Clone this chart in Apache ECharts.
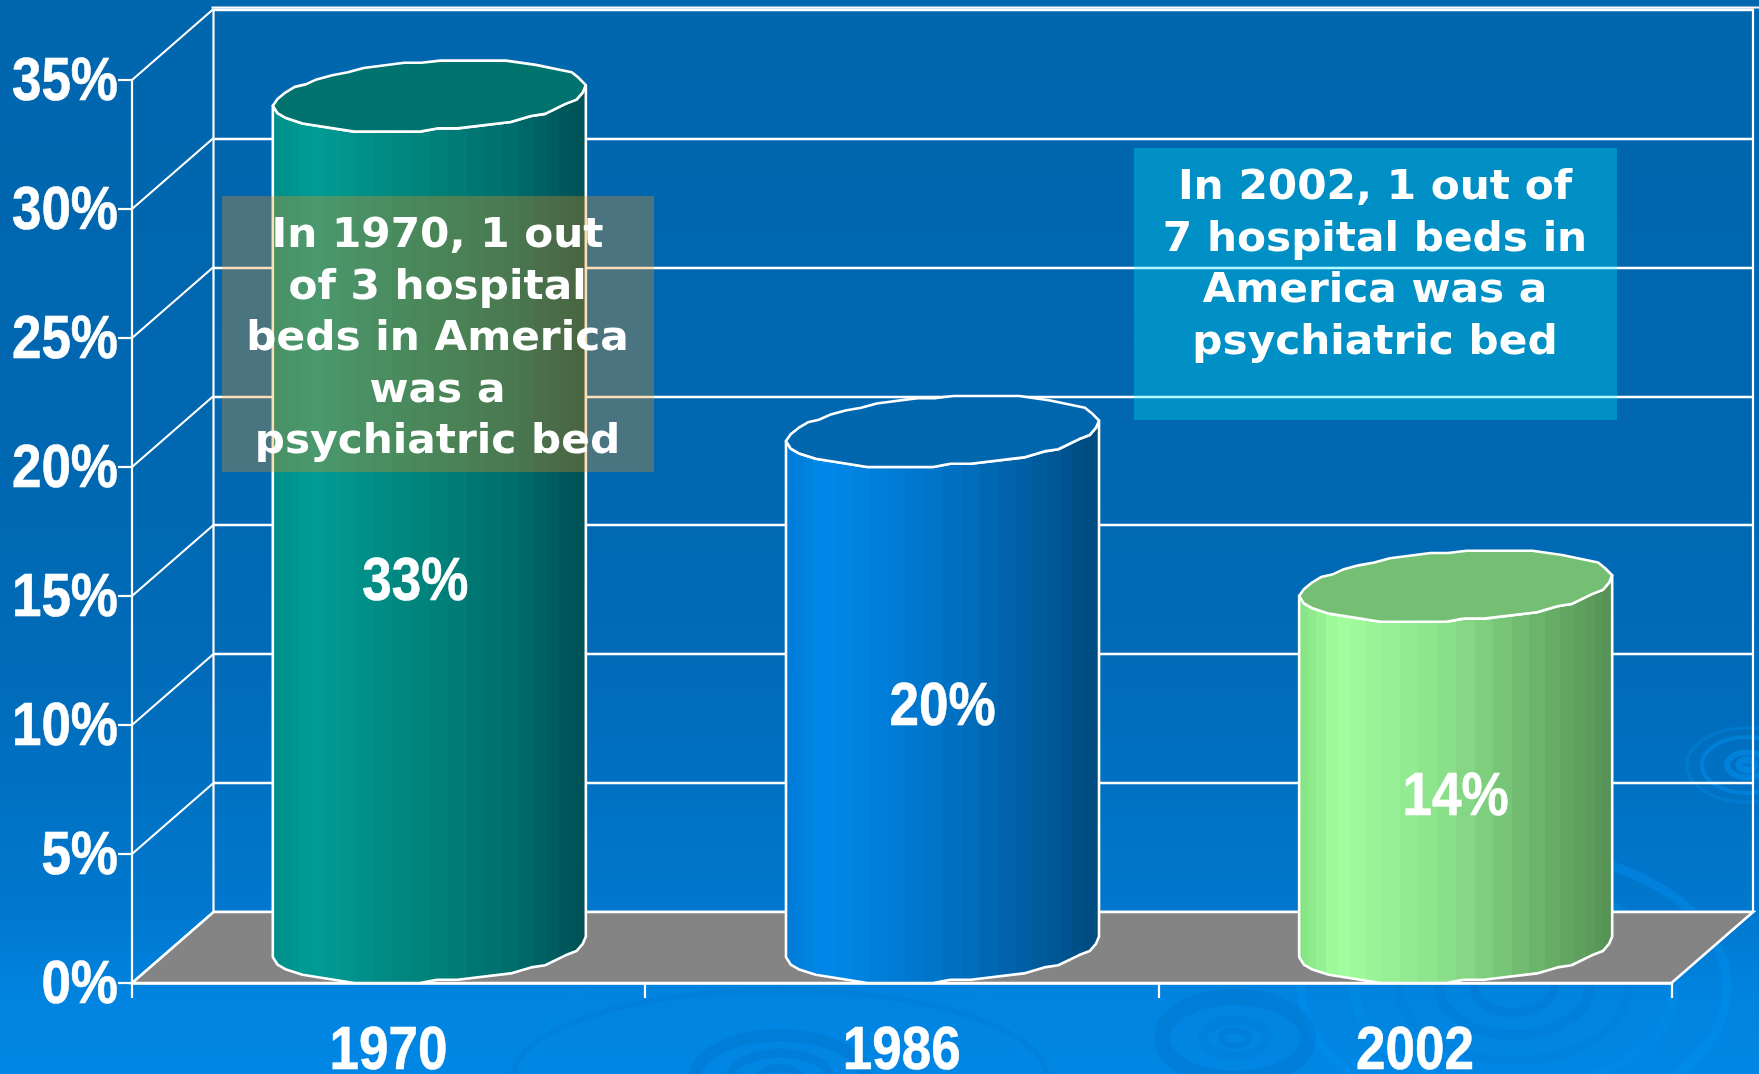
<!DOCTYPE html>
<html><head><meta charset="utf-8">
<style>html,body{margin:0;padding:0;background:#0075c8}#c{width:1759px;height:1074px}</style>
<script src="https://cdn.jsdelivr.net/npm/echarts@6/dist/echarts.min.js"></script>
</head><body><div id="c"></div>
<script>
// ---- data ----
const categories = ['1970', '1986', '2002'];
const percentages = [33, 20, 14];
const valueTicks = [0, 5, 10, 15, 20, 25, 30, 35];
const noteLeft = 'In 1970, 1 out\nof 3 hospital\nbeds in America\nwas a\npsychiatric bed';
const noteRight = 'In 2002, 1 out of\n7 hospital beds in\nAmerica was a\npsychiatric bed';

// ---- styling ----
const FRONT = {left: 132, top: 80, right: 87.5, bottom: 91};
const BACK = {left: 213.5, top: 9.5, right: 6, bottom: 162};
const DEPTH = {x: 81.5, y: -71};
const NUM_FONT = 'bold 62px "Liberation Sans", Arial, sans-serif';
const NUM_SCALE = 0.855;
const labelNudge = [[-14, 61], [0, 18], [0, 31]];
const bodyShades = [
  ['#008f88', '#009c96', '#008279', '#006e6e', '#004f55'],
  ['#0079d6', '#0089ea', '#0073c6', '#0060a6', '#00497c'],
  ['#82e082', '#a2ff9e', '#88dc88', '#6cb56c', '#559055']
];
const capColors = ['#00736f', '#0066ae', '#74bf74'];
// unit outline of the slightly faceted cylinder end, clockwise from the left
const facetsTop = [[-1,.27],[-.97,.08],[-.92,-.1],[-.86,-.26],[-.79,-.33],[-.72,-.47],[-.62,-.59],[-.52,-.67],[-.42,-.79],[-.16,-.94],[-.05,-.94],[.07,-1],[.49,-1],[.68,-.88],[.91,-.67],[.95,-.53],[1,-.31]];
const facetsBottom = [[1,-.31],[.98,-.1],[.94,.1],[.87,.22],[.74,.5],[.65,.56],[.52,.73],[.18,.91],[.05,.91],[-.06,1],[-.48,1],[-.81,.77],[-.92,.61],[-.97,.48],[-1,.27]];

function shadeAt(pal, t) {
  const xs = [0, .13, .5, .75, 1];
  let i = 0; while (i < xs.length - 2 && t > xs[i + 1]) i++;
  const f = (t - xs[i]) / (xs[i + 1] - xs[i]);
  const h = c => [1, 3, 5].map(k => parseInt(c.substr(k, 2), 16));
  const a = h(pal[i]), b = h(pal[i + 1]);
  return 'rgb(' + a.map((v, k) => Math.round(v + (b[k] - v) * f)).join(',') + ')';
}
function bandedFill(pal) {
  const n = 26, stops = [];
  for (let i = 0; i < n; i++) {
    const t0 = (1 - Math.cos(Math.PI * i / n)) / 2, t1 = (1 - Math.cos(Math.PI * (i + 1) / n)) / 2;
    const c = shadeAt(pal, (t0 + t1) / 2);
    stops.push({offset: t0, color: c}, {offset: t1, color: c});
  }
  return {type: 'linear', x: 0, y: 0, x2: 1, y2: 0, colorStops: stops};
}
function numText(text, x, y, align) {
  return {type: 'text', x, y, scaleX: NUM_SCALE, style: {text, x: 0, y: 0, fill: '#fff', font: NUM_FONT, align, verticalAlign: 'middle', stroke: '#fff', lineWidth: 0.6}};
}

function renderCylinder(params, api) {
  const i = api.value(0);
  const base = api.coord([i, 0]), head = api.coord([i, api.value(1)]);
  const rx = api.size([1, 0])[0] * 0.305, ry = 35.5;
  const cx = base[0] + DEPTH.x / 2, yB = base[1] + DEPTH.y / 2, yT = head[1] + DEPTH.y / 2;
  const pt = (p, y) => [cx + p[0] * rx, y + p[1] * ry];
  const top = facetsTop.map(p => pt(p, yT));
  const capFront = facetsBottom.map(p => pt(p, yT));
  const body = facetsBottom.map(p => pt(p, yB)).concat(capFront.slice().reverse());
  const line = {stroke: '#fff', lineWidth: 2.6, lineJoin: 'round'};
  return {
    type: 'group',
    children: [
      {type: 'polygon', shape: {points: body}, style: Object.assign({fill: bandedFill(bodyShades[i])}, line)},
      {type: 'polygon', shape: {points: top.concat(capFront.slice(1, -1))}, style: Object.assign({fill: capColors[i]}, line)},
      numText(api.value(1) + '%', cx + labelNudge[i][0], (yB + yT) / 2 + labelNudge[i][1], 'center'),
      numText(categories[i], base[0], base[1] + 69, 'center')
    ]
  };
}

function renderWall(params, api) {
  const cs = params.coordSys, v = api.value(1), y = api.coord([0, v])[1];
  const children = [
    {type: 'line', shape: {x1: cs.x, y1: y, x2: cs.x + DEPTH.x, y2: y + DEPTH.y}, style: {stroke: '#fff', lineWidth: 2.2}},
    numText(v + '%', cs.x - 14, y + 2.5, 'right')
  ];
  if (v === valueTicks[valueTicks.length - 1]) {
    children.push({type: 'line', shape: {x1: cs.x + DEPTH.x - 2, y1: 7.5, x2: 1759, y2: 7.5}, style: {stroke: '#fff', lineWidth: 2.2}});
  }
  return {type: 'group', children};
}

function renderFloor(params, api) {
  const cs = params.coordSys, y = cs.y + cs.height, x = cs.x, w = cs.width;
  return {type: 'polygon', shape: {points: [[x, y], [x + DEPTH.x, y + DEPTH.y], [x + w + DEPTH.x, y + DEPTH.y], [x + w, y]]},
    style: {fill: '#848484', stroke: '#fff', lineWidth: 2.6}};
}

function rings(cx, cy, list, sy, color) {
  return list.map(r => ({type: 'ellipse', z: -5, silent: true,
    shape: {cx, cy, rx: r[0], ry: r[0] * sy},
    style: {fill: 'none', stroke: color, lineWidth: r[1], opacity: r[2]}}));
}

const BRIGHT = '#0092f2', DARK = '#0068bc';
const ripples = [].concat(
  rings(1747, 765, [[8, 7, .55], [20, 6, .5], [45, 4, .45], [60, 3, .3]], .62, BRIGHT),
  rings(1514, 987, [[160, 10, .25], [213, 9, .4]], .64, BRIGHT),
  rings(1514, 987, [[40, 9, .22], [75, 10, .18], [115, 8, .12]], .64, DARK),
  rings(780, 1078, [[20, 8, .25], [50, 9, .25], [85, 12, .28]], .5, DARK),
  rings(780, 1078, [[267, 5, .16]], .33, DARK),
  rings(780, 1078, [[246, 5, .14]], .6, BRIGHT),
  rings(1235, 1038, [[14, 6, .22], [32, 9, .14], [73, 16, .25]], .56, DARK)
);

const chart = echarts.init(document.getElementById('c'));
chart.setOption({
  animation: false,
  backgroundColor: {type: 'linear', x: 0, y: 0, x2: 0, y2: 1, colorStops: [
    {offset: 0, color: '#0066ae'}, {offset: .4, color: '#0067b0'}, {offset: .62, color: '#006bb8'},
    {offset: .85, color: '#0078ce'}, {offset: .93, color: '#0084e0'}, {offset: 1, color: '#0086e4'}]},
  grid: [
    Object.assign({containLabel: false}, FRONT),
    Object.assign({show: true, backgroundColor: 'transparent', borderColor: '#fff', borderWidth: 2.2}, BACK)
  ],
  xAxis: [
    {type: 'category', gridIndex: 0, data: categories,
      axisLine: {lineStyle: {color: '#fff', width: 2.6}},
      axisTick: {show: true, length: 15, lineStyle: {color: '#fff', width: 2.2}},
      axisLabel: {show: false}},
    {type: 'category', gridIndex: 1, data: categories, show: false}
  ],
  yAxis: [
    {type: 'value', gridIndex: 0, min: 0, max: 35, interval: 5,
      axisLine: {show: true, lineStyle: {color: '#fff', width: 2.2}},
      axisTick: {show: true, length: 14, lineStyle: {color: '#fff', width: 2.2}},
      splitLine: {show: false},
      axisLabel: {show: false}},
    {type: 'value', gridIndex: 1, min: 0, max: 35, interval: 5,
      axisLine: {show: false}, axisTick: {show: false}, axisLabel: {show: false},
      splitLine: {show: true, lineStyle: {color: '#fff', width: 2.4}}}
  ],
  series: [
    {type: 'custom', name: 'floor', z: 1, xAxisIndex: 0, yAxisIndex: 0, clip: false, silent: true, data: [[0, 0]], renderItem: renderFloor},
    {type: 'custom', name: 'wall', z: 1, xAxisIndex: 0, yAxisIndex: 0, clip: false, silent: true, data: valueTicks.map(v => [0, v]), renderItem: renderWall},
    {type: 'custom', name: 'Psychiatric beds', z: 3, xAxisIndex: 0, yAxisIndex: 0, clip: false, silent: true,
      data: percentages.map((v, i) => [i, v]), encode: {x: 0, y: 1}, renderItem: renderCylinder}
  ],
  graphic: {elements: ripples.concat([
    {type: 'rect', z: 50, shape: {x: 222, y: 196, width: 432, height: 276}, style: {fill: 'rgba(246,147,16,0.3)'}},
    {type: 'text', z: 51, x: 437.5, y: 210.5, scaleX: 1.03, style: {text: noteLeft, x: 0, y: 0, align: 'center', verticalAlign: 'top', fill: '#fff', font: 'bold 41px "DejaVu Sans", sans-serif', lineHeight: 51.6}},
    {type: 'rect', z: 50, shape: {x: 1134, y: 148, width: 483, height: 272}, style: {fill: 'rgba(0,240,250,0.3)'}},
    {type: 'text', z: 51, x: 1375, y: 162.5, scaleX: 1.03, style: {text: noteRight, x: 0, y: 0, align: 'center', verticalAlign: 'top', fill: '#fff', font: 'bold 41px "DejaVu Sans", sans-serif', lineHeight: 51.6}}
  ])}
});
</script></body></html>
